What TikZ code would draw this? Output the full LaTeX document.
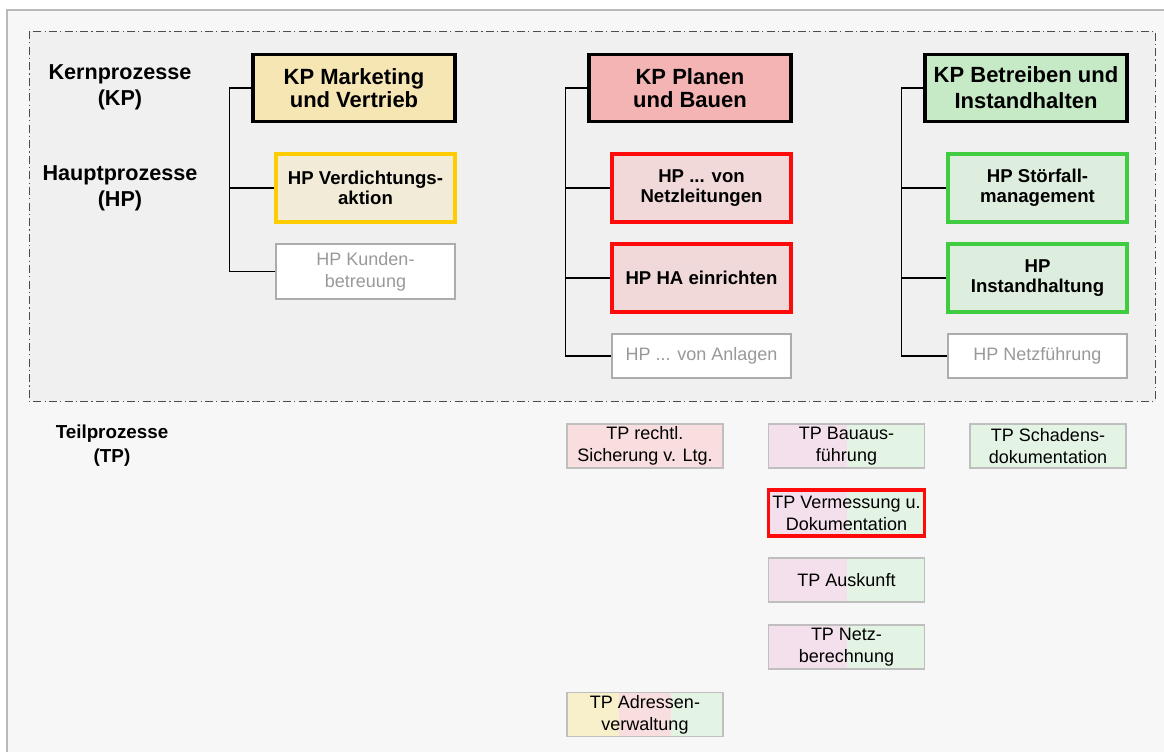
\documentclass[tikz,border=0pt]{standalone}
\usepackage{fontspec}
\setmainfont{Liberation Sans}
\definecolor{panel}{RGB}{247,247,247}
\definecolor{frame}{RGB}{240,240,240}
\definecolor{kpyellow}{RGB}{246,230,180}
\definecolor{kpred}{RGB}{244,180,180}
\definecolor{kpgreen}{RGB}{198,233,198}
\definecolor{hpyellow}{RGB}{242,235,216}
\definecolor{hpred}{RGB}{242,217,217}
\definecolor{hpgreen}{RGB}{222,238,222}
\definecolor{lineyellow}{RGB}{255,204,0}
\definecolor{linered}{RGB}{255,10,10}
\definecolor{linegreen}{RGB}{64,204,64}
\definecolor{tpred}{RGB}{248,222,222}
\definecolor{tpmauve}{RGB}{244,224,236}
\definecolor{tpgreen}{RGB}{228,244,228}
\definecolor{tpyellow}{RGB}{248,240,202}
\begin{document}
\begin{tikzpicture}[
    x=0.5pt,y=-0.5pt,
    label/.style={align=center,font=\fontsize{10.8}{13}\selectfont\bfseries},
    kp/.style={draw=black,line width=1.6pt,minimum width=101pt,minimum height=33.5pt,
        inner sep=0pt,align=center,font=\fontsize{11}{11.6}\selectfont\bfseries},
    hp/.style={line width=1.6pt,minimum width=89.5pt,minimum height=34pt,
        inner sep=0pt,align=center,font=\fontsize{9.3}{10.2}\selectfont\bfseries},
    hpoff/.style={draw=gray!65,fill=white,line width=0.9pt,minimum width=89.5pt,
        minimum height=22pt,inner sep=0pt,align=center,text=gray!80,
        font=\fontsize{9}{11}\selectfont},
    tp/.style={draw=gray!50,line width=0.7pt,minimum width=78pt,minimum height=22pt,
        inner sep=0pt,align=center,font=\fontsize{9}{11}\selectfont},
    twofill/.style 2 args={path picture={
        \fill[#1] (path picture bounding box.south west) rectangle (path picture bounding box.north);
        \fill[#2] (path picture bounding box.south) rectangle (path picture bounding box.north east);}},
    link/.style={draw=black,line width=0.6pt},
    ]
\useasboundingbox (0,0) rectangle (1164,751);

    %% Background and dash-dotted frame
    \fill[white] (0,0) rectangle (1164,751);
    \draw[gray!55,fill=panel,line width=0.6pt] (7,10) rectangle (1180,770);
    \draw[black!70,fill=frame,line width=0.5pt,
        dash pattern=on 4pt off 1.6pt on 0.6pt off 1.6pt] (29,31) rectangle (1155,401);

    %% Level labels
    \node[label] (lkp) at (120,87) {Kernprozesse\\(KP)};
    \node[label] (lhp) at (120,188) {Hauptprozesse\\(HP)};
    \node[label,font=\fontsize{9.4}{12}\selectfont\bfseries] (ltp) at (112,446) {Teilprozesse\\(TP)};

    %% Kernprozesse
    \node[kp,fill=kpyellow] (kpm) at (354,88) {KP Marketing\\und Vertrieb};
    \node[kp,fill=kpred] (kpp) at (690,88) {KP Planen\\und Bauen};
    \node[kp,fill=kpgreen,font=\fontsize{11}{13}\selectfont\bfseries] (kpb) at (1026,88) {KP Betreiben und\\Instandhalten};

    %% Hauptprozesse
    \node[hp,draw=lineyellow,fill=hpyellow] (hpv) at (365.5,188) {HP Verdichtungs-\\aktion};
    \node[hpoff,minimum height=27.5pt] (hpk) at (365.5,271.5) {HP Kunden-\\betreuung};

    \node[hp,draw=linered,fill=hpred] (hpn) at (701.5,188) {HP ... von\\Netzleitungen};
    \node[hp,draw=linered,fill=hpred] (hpa) at (701.5,278) {HP HA einrichten};
    \node[hpoff] (hpl) at (701.5,356) {HP ... von Anlagen};

    \node[hp,draw=linegreen,fill=hpgreen] (hps) at (1037.5,188) {HP Störfall-\\management};
    \node[hp,draw=linegreen,fill=hpgreen] (hpi) at (1037.5,278) {HP\\Instandhaltung};
    \node[hpoff] (hpf) at (1037.5,356) {HP Netzführung};

    % Tree lines from each KP down to its HPs
    \foreach \k/\last/\rest in {kpm/hpk/{hpv},kpp/hpl/{hpn,hpa},kpb/hpf/{hps,hpi}} {
        \draw[link] (\k.west) -- ([xshift=-10.8pt]\k.west) |- (\last.west);
        \foreach \h in \rest
            \draw[link] ([xshift=-10.8pt]\k.west |- \h.west) -- (\h.west);
    }

    %% Teilprozesse
    \node[tp,fill=tpred] (tpr) at (645,446) {TP rechtl.\\Sicherung v. Ltg.};
    \node[tp,twofill={tpmauve}{tpgreen}] (tpb) at (846.5,446) {TP Bauaus-\\führung};
    \node[tp,fill=tpgreen] (tps) at (1048,446) {TP Schadens-\\dokumentation};
    \node[tp,twofill={tpmauve}{tpgreen},draw=linered,line width=1.8pt,minimum height=23pt] (tpv) at (846.5,513) {TP Vermessung u.\\Dokumentation};
    \node[tp,twofill={tpmauve}{tpgreen}] (tpa) at (846.5,580) {TP Auskunft};
    \node[tp,twofill={tpmauve}{tpgreen}] (tpn) at (846.5,647) {TP Netz-\\berechnung};
    \node[tp,path picture={
        \fill[tpyellow] (path picture bounding box.south west) rectangle ([xshift=26pt]path picture bounding box.north west);
        \fill[tpred] ([xshift=26pt]path picture bounding box.south west) rectangle ([xshift=-26pt]path picture bounding box.north east);
        \fill[tpgreen] ([xshift=-26pt]path picture bounding box.south east) rectangle (path picture bounding box.north east);}]
        (tpd) at (645,714.5) {TP Adressen-\\verwaltung};
\end{tikzpicture}
\end{document}
